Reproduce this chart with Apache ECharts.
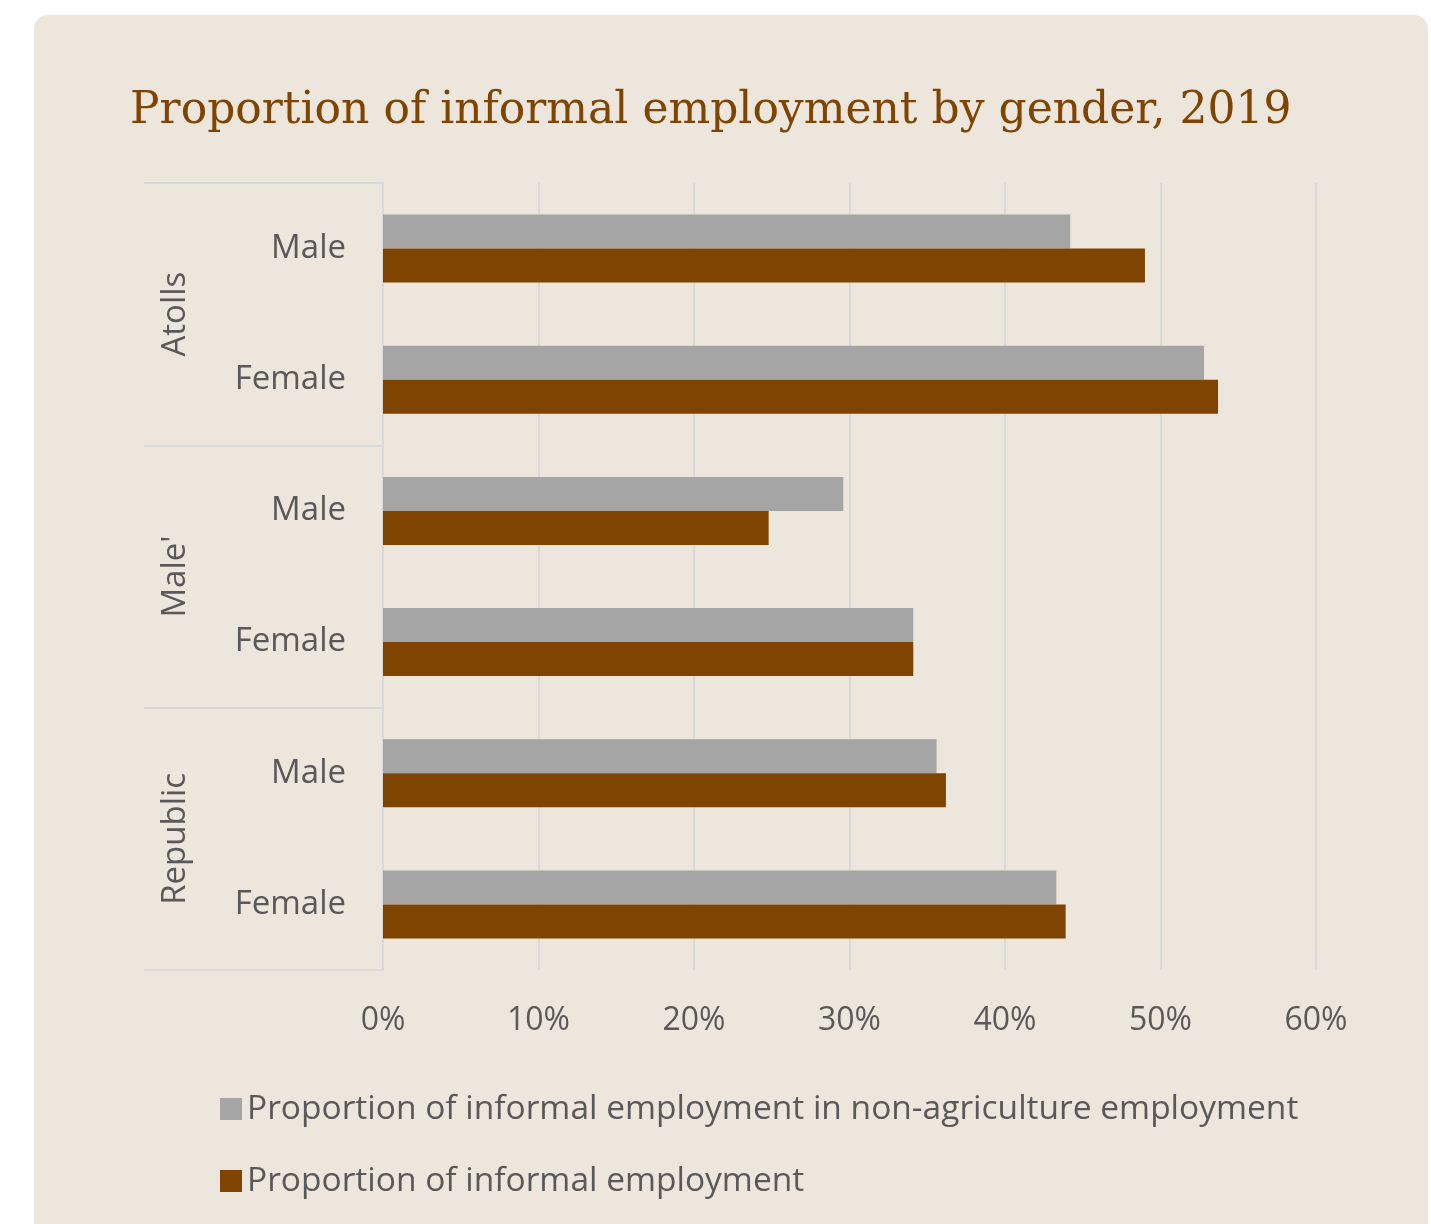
<!DOCTYPE html>
<html>
<head>
<meta charset="utf-8">
<title>Proportion of informal employment by gender, 2019</title>
<script src="https://cdn.jsdelivr.net/npm/echarts@6/dist/echarts.min.js"></script>
<style>
  html, body { margin: 0; padding: 0; background: #ffffff; }
  #chart { width: 1431px; height: 1224px; }
</style>
</head>
<body>
<div id="chart"></div>
<script>
// Sex within each area (inner axis) and the areas themselves (outer axis)
const genders = ['Male', 'Female', 'Male', 'Female', 'Male', 'Female'];
const areas = ['Atolls', "Male'", 'Republic'];

// Values in percent, listed in the same order as the gender rows
const nonAgriShare = [44.2, 52.8, 29.6, 34.1, 35.6, 43.3];
const informalShare = [49.0, 53.7, 24.8, 34.1, 36.2, 43.9];

const seriesNames = [
  'Proportion of informal employment in non-agriculture employment',
  'Proportion of informal employment'
];

const xTicks = { min: 0, max: 60, interval: 10 };

const GREY = '#A5A5A5';
const BROWN = '#7F4500';
const TEXT = '#595959';
const RULE = '#D9D9D9';
const SANS = '"Open Sans", "Noto Sans", sans-serif';

const chart = echarts.init(document.getElementById('chart'), null, { renderer: 'canvas' });

chart.setOption({
  backgroundColor: '#ffffff',
  animation: false,
  graphic: [{
    type: 'rect',
    z: -10,
    silent: true,
    shape: { x: 34, y: 15, width: 1394, height: 1260, r: 14 },
    style: { fill: '#EDE6DD' }
  }],
  title: {
    text: 'Proportion of informal employment by gender, 2019',
    left: 125,
    top: 85,
    textStyle: {
      fontFamily: '"DejaVu Serif", serif',
      fontWeight: 'normal',
      fontSize: 44,
      color: '#7F4400'
    }
  },
  legend: {
    orient: 'vertical',
    left: 220,
    top: 1089,
    padding: 0,
    itemWidth: 22,
    itemHeight: 22,
    itemGap: 32,
    itemTextGap: 14,
    icon: 'rect',
    itemStyle: { borderWidth: 0 },
    textStyle: { fontFamily: SANS, fontSize: 33.5, color: TEXT, lineHeight: 40 },
    data: seriesNames
  },
  grid: { left: 383, right: 115, top: 183, bottom: 254, containLabel: false },
  xAxis: {
    type: 'value',
    min: xTicks.min,
    max: xTicks.max,
    interval: xTicks.interval,
    axisLine: { show: false },
    axisTick: { show: false },
    splitLine: { lineStyle: { color: RULE, width: 2 } },
    axisLabel: {
      formatter: '{value}%',
      fontFamily: SANS,
      fontSize: 32,
      color: TEXT,
      margin: 35
    }
  },
  yAxis: [{
    type: 'category',
    data: genders,
    inverse: true,
    axisLine: { show: true, lineStyle: { color: RULE, width: 2 } },
    axisTick: { show: false },
    axisLabel: { fontFamily: SANS, fontSize: 33, color: TEXT, margin: 37, padding: [10, 0, 0, 0] }
  }, {
    type: 'category',
    data: areas,
    inverse: true,
    position: 'left',
    axisLine: { show: false },
    axisTick: { show: true, length: 239, interval: 0, lineStyle: { color: RULE, width: 2 } },
    axisLabel: { fontFamily: SANS, fontSize: 33, color: TEXT, rotate: 90, margin: 191, interval: 0 }
  }],
  series: [{
    name: seriesNames[0],
    type: 'bar',
    yAxisIndex: 0,
    data: nonAgriShare,
    barWidth: 34,
    barGap: '0%',
    itemStyle: { color: GREY }
  }, {
    name: seriesNames[1],
    type: 'bar',
    yAxisIndex: 0,
    data: informalShare,
    barWidth: 34,
    barGap: '0%',
    itemStyle: { color: BROWN }
  }]
});
</script>
</body>
</html>
